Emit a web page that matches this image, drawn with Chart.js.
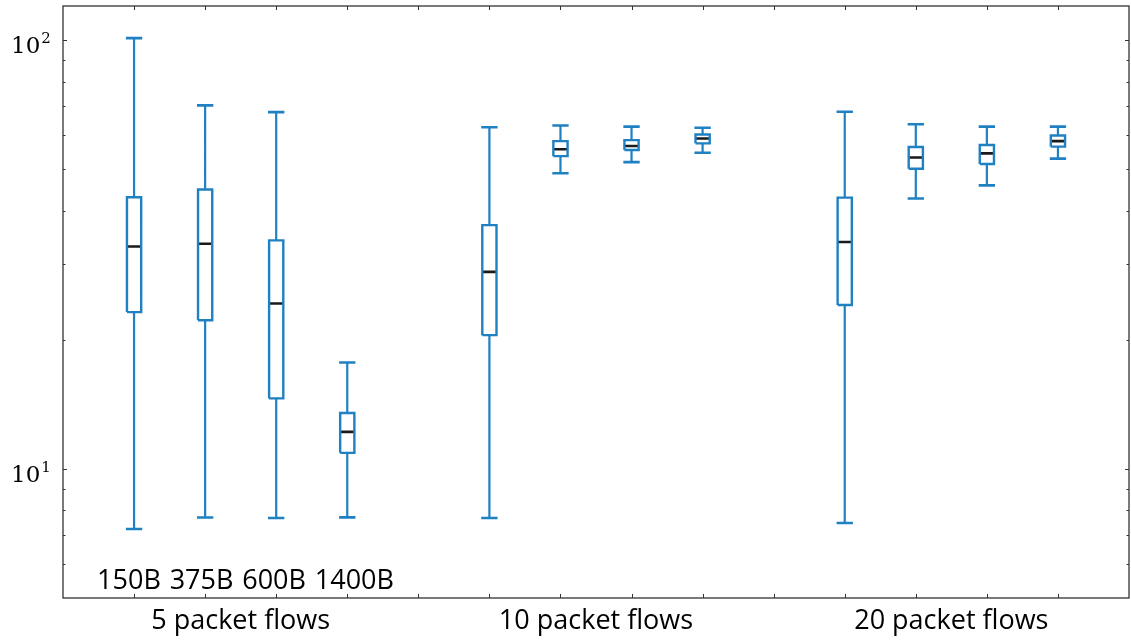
<!DOCTYPE html>
<html>
<head>
<meta charset="utf-8">
<script src="https://cdn.jsdelivr.net/npm/chart.js@4.4.0/dist/chart.umd.min.js"></script>
<style>
  html, body { margin: 0; padding: 0; background: #fff; }
</style>
</head>
<body>
<canvas id="chart" width="1131" height="642"></canvas>
<script>
// box slots on the x axis (a blank slot separates each flow group)
const positions = [1, 2, 3, 4, 6, 7, 8, 9, 11, 12, 13, 14];
const sizeLabels = ['150B', '375B', '600B', '1400B'];
const groupLabels = ['5 packet flows', '10 packet flows', '20 packet flows'];
const groupCenters = [2.5, 7.5, 12.5];
const xTickMarks = [1, 2, 3, 4, 5, 6, 7, 8, 9, 10, 11, 12, 13, 14];
const yTickMarks = [6, 7, 8, 9, 10, 20, 30, 40, 50, 60, 70, 80, 90, 100];
const yMajor = [10, 100];

// five-number summaries per box
const whiskerLow  = [7.24, 7.70, 7.68, 7.71, 7.68, 48.9, 51.9, 54.6, 7.48, 42.7, 45.8, 52.9];
const q1          = [23.2, 22.2, 14.6, 10.9, 20.5, 53.6, 55.4, 57.4, 24.1, 50.1, 51.4, 56.4];
const medians     = [33.0, 33.5, 24.3, 12.2, 28.8, 55.6, 56.6, 58.9, 33.8, 53.2, 54.4, 58.1];
const q3          = [43.0, 44.8, 34.1, 13.5, 37.0, 58.1, 58.4, 60.2, 42.9, 56.3, 56.9, 59.9];
const whiskerHigh = [101, 70.4, 67.9, 17.7, 62.6, 63.2, 62.8, 62.4, 68.0, 63.6, 62.8, 62.8];

const BLUE = '#1f80c2';
const AXIS = '#333333';
const BOX_HALF = 0.1;
const CAP_HALF = 0.115;

// build polylines, null y breaks the segment
const whiskerPts = [], capPts = [], boxPts = [], medianPts = [];
positions.forEach((p, i) => {
    whiskerPts.push({ x: p, y: whiskerLow[i] }, { x: p, y: q1[i] }, { x: p, y: null },
                    { x: p, y: q3[i] }, { x: p, y: whiskerHigh[i] }, { x: p, y: null });
    capPts.push({ x: p - CAP_HALF, y: whiskerLow[i] }, { x: p + CAP_HALF, y: whiskerLow[i] }, { x: p, y: null },
                { x: p - CAP_HALF, y: whiskerHigh[i] }, { x: p + CAP_HALF, y: whiskerHigh[i] }, { x: p, y: null });
    boxPts.push({ x: p - BOX_HALF, y: q1[i] }, { x: p + BOX_HALF, y: q1[i] },
                { x: p + BOX_HALF, y: q3[i] }, { x: p - BOX_HALF, y: q3[i] },
                { x: p - BOX_HALF, y: q1[i] }, { x: p, y: null });
    medianPts.push({ x: p - BOX_HALF, y: medians[i] }, { x: p + BOX_HALF, y: medians[i] }, { x: p, y: null });
});

function lineSet(data, color, width) {
    return {
        data: data,
        showLine: true,
        spanGaps: false,
        borderColor: color,
        borderWidth: width,
        pointRadius: 0,
        borderCapStyle: 'butt',
        borderJoinStyle: 'miter',
        tension: 0
    };
}

// frame on all four sides, inward tick marks, 10^n labels and the size labels
const framePlugin = {
    id: 'frame',
    afterDraw(chart) {
        const { ctx, chartArea: a, scales } = chart;
        ctx.save();
        ctx.strokeStyle = AXIS;
        ctx.lineWidth = 1.3;
        ctx.strokeRect(a.left, a.top, a.right - a.left, a.bottom - a.top);
        ctx.lineWidth = 1;
        ctx.beginPath();
        xTickMarks.forEach(v => {
            const x = Math.round(scales.x.getPixelForValue(v)) + 0.5;
            ctx.moveTo(x, a.bottom); ctx.lineTo(x, a.bottom - 4);
            ctx.moveTo(x, a.top); ctx.lineTo(x, a.top + 4);
        });
        yTickMarks.forEach(v => {
            const y = Math.round(scales.y.getPixelForValue(v)) + 0.5;
            const len = yMajor.includes(v) ? 4 : 2.5;
            ctx.moveTo(a.left, y); ctx.lineTo(a.left + len, y);
            ctx.moveTo(a.right, y); ctx.lineTo(a.right - len, y);
        });
        ctx.stroke();

        ctx.fillStyle = '#000';
        ctx.textBaseline = 'alphabetic';
        ctx.textAlign = 'left';
        yMajor.forEach(v => {
            const y = scales.y.getPixelForValue(v);
            ctx.font = '23px "DejaVu Serif"';
            ctx.fillText('10', 11, y + 13.5);
            const w = ctx.measureText('10').width;
            ctx.font = '15px "DejaVu Serif"';
            ctx.fillText(String(Math.round(Math.log10(v))), 11 + w + 1, y + 3.5);
        });

        // packet sizes, one word per box of the first group, left edges spaced one slot apart
        ctx.font = '27px "Open Sans"';
        const step = scales.x.getPixelForValue(2) - scales.x.getPixelForValue(1);
        const start = scales.x.getPixelForValue(positions[0]) - 37;
        sizeLabels.forEach((t, i) => {
            ctx.fillText(t, start + i * (step + 1.5), 589);
        });
        ctx.restore();
    }
};

new Chart(document.getElementById('chart'), {
    type: 'scatter',
    data: {
        datasets: [
            lineSet(whiskerPts, BLUE, 2.2),
            lineSet(capPts, BLUE, 2.6),
            lineSet(boxPts, BLUE, 2.4),
            lineSet(medianPts, '#1a1a1a', 2.6)
        ]
    },
    options: {
        responsive: false,
        animation: false,
        devicePixelRatio: 1,
        layout: { padding: { top: 6, right: 2, left: 0, bottom: 0 } },
        plugins: { legend: { display: false }, tooltip: { enabled: false } },
        scales: {
            x: {
                type: 'linear',
                min: 0,
                max: 15,
                grid: { display: false, drawTicks: false },
                border: { display: false },
                afterBuildTicks: (scale) => { scale.ticks = groupCenters.map(v => ({ value: v })); },
                afterFit: (scale) => {
                    scale.height = 44;
                    scale.paddingLeft = 0;
                    scale.paddingRight = 0;
                },
                ticks: {
                    autoSkip: false,
                    maxRotation: 0,
                    padding: 7,
                    color: '#000',
                    font: { family: 'Open Sans', size: 27 },
                    callback: (v) => groupLabels[groupCenters.indexOf(v)] || ''
                }
            },
            y: {
                type: 'logarithmic',
                min: 5,
                max: 120,
                grid: { display: false, drawTicks: false },
                border: { display: false },
                afterBuildTicks: (scale) => { scale.ticks = yMajor.map(v => ({ value: v })); },
                afterFit: (scale) => {
                    scale.width = 63;
                    scale.paddingTop = 0;
                    scale.paddingBottom = 0;
                },
                ticks: { display: false }
            }
        }
    },
    plugins: [framePlugin]
});
</script>
</body>
</html>
